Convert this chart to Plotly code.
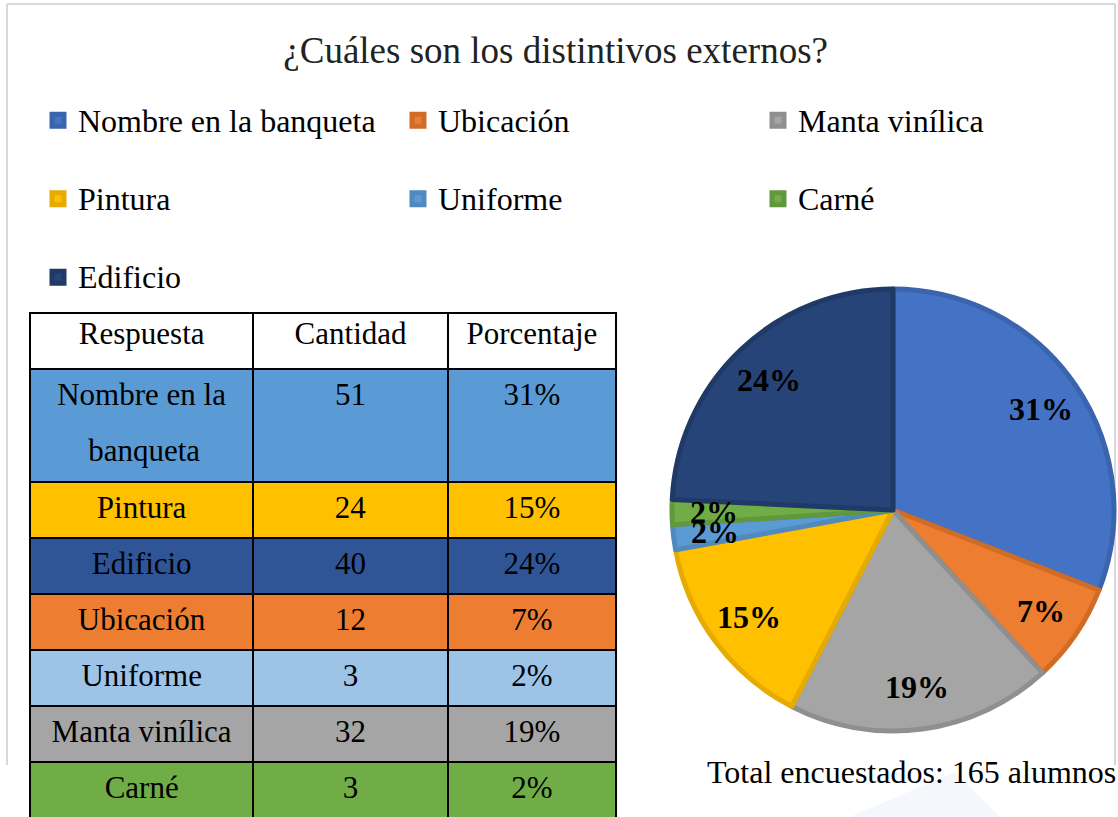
import math
import plotly.graph_objects as go

# ---- data ----
categories = ["Nombre en la banqueta", "Ubicación", "Manta vinílica", "Pintura",
              "Uniforme", "Carné", "Edificio"]
counts = [51, 12, 32, 24, 3, 3, 40]
slice_colors = ["#4472C4", "#ED7D31", "#A5A5A5", "#FFC000", "#5B9BD5", "#70AD47", "#264478"]
slice_edge = ["#3B64AE", "#D16C27", "#8F8F8F", "#E5AB00", "#4F89BD", "#62983D", "#1F3A66"]

table_resp = ["Nombre en la<br>banqueta", "Pintura", "Edificio", "Ubicación",
              "Uniforme", "Manta vinílica", "Carné"]
table_cant = ["51", "24", "40", "12", "3", "32", "3"]
table_pct = ["31%", "15%", "24%", "7%", "2%", "19%", "2%"]
table_colors = ["#5B9BD5", "#FFC000", "#2F5597", "#ED7D31", "#9DC3E6", "#A5A5A5", "#70AD47"]
table_header = ["Respuesta", "Cantidad", "Porcentaje"]

title_text = "¿Cuáles son los distintivos externos?"
total_text = "Total encuestados: 165 alumnos"

W, H = 1118, 817
SERIF = "Liberation Serif, Times New Roman, serif"
TFS = 31          # visible table font size
TALL = 43         # nominal font size giving a 56 px line step
LFS = 32          # visible legend font size

# pie geometry (pixels)
CX, CY, R = 893, 510, 221

fig = go.Figure()

legend_labels = ["<span style='font-size:%dpx'>%s</span><br> " % (LFS, c) for c in categories]

fig.add_trace(go.Pie(
    labels=legend_labels,
    values=counts,
    sort=False,
    direction="clockwise",
    rotation=0,
    marker=dict(colors=slice_colors, line=dict(color=slice_edge, width=5)),
    textinfo="none",
    domain=dict(x=[(CX - R) / W, (CX + R) / W], y=[1 - (CY + R) / H, 1 - (CY - R) / H]),
    hovertemplate="%{customdata}: %{value} (%{percent})<extra></extra>",
    customdata=categories,
    showlegend=True,
))

# percentage labels placed along each slice's mid angle (derived from counts)
total = sum(counts)
cum = 0
for v in counts:
    mid = (cum + v / 2) / total * 2 * math.pi
    cum += v
    rr = 0.81 * R
    px = CX + rr * math.sin(mid)
    py = CY - rr * math.cos(mid)
    fig.add_annotation(
        text="<b>%d%%</b>" % round(100 * v / total),
        xref="paper", yref="paper", x=px / W, y=1 - py / H,
        xanchor="center", yanchor="middle", showarrow=False,
        font=dict(family=SERIF, size=32, color="black"),
    )

SPAN = "<span style='font-size:%dpx;baseline-shift:6px'>%s</span>"


def sized(text):
    lines = text.split("<br>")
    out = []
    for i, ln in enumerate(lines):
        pad = "&nbsp;" * 4 if i > 0 else ""
        seg = SPAN % (TFS, pad + ln)
        if i > 0:
            seg += "<span style='font-size:%dpx'>&nbsp;</span>" % TFS
        out.append(seg)
    s = "<br>".join(out)
    if len(lines) == 1:
        s += "<br>"   # keeps the table from word-wrapping the markup
    return s


fig.add_trace(go.Table(
    domain=dict(x=[30 / W, 616 / W], y=[0, 1 - 313 / H]),
    columnwidth=[223, 194, 168],
    header=dict(
        values=table_header,
        fill_color="white",
        line=dict(color="black", width=2),
        font=dict(family=SERIF, size=TFS, color="black"),
        align="center",
        height=56,
    ),
    cells=dict(
        values=[[sized(t) for t in table_resp],
                [sized(t) for t in table_cant],
                [sized(t) for t in table_pct]],
        fill_color=[table_colors, table_colors, table_colors],
        line=dict(color="black", width=2),
        font=dict(family=SERIF, size=TALL, color="black"),
        align="center",
        height=56,
    ),
))

# chart frame (top, left, right)
frame = dict(type="line", xref="paper", yref="paper", line=dict(color="#D9D9D9", width=2), layer="below")
fig.add_shape(x0=7 / W, x1=1115 / W, y0=1 - 4 / H, y1=1 - 4 / H, **frame)
fig.add_shape(x0=7 / W, x1=7 / W, y0=1 - 4 / H, y1=1 - 765 / H, **frame)
fig.add_shape(x0=1115 / W, x1=1115 / W, y0=1 - 4 / H, y1=1 - 765 / H, **frame)
# faint watermark
fig.add_shape(type="path", xref="paper", yref="paper", layer="below",
              path="M %f %f L %f %f L %f %f Z" % (850 / W, 0, 955 / W, 1 - 772 / H, 1000 / W, 0),
              fillcolor="#F4F7FC", line=dict(width=0))

fig.add_annotation(
    text=total_text, xref="paper", yref="paper",
    x=911 / W, y=1 - 772 / H, xanchor="center", yanchor="middle",
    showarrow=False, font=dict(family=SERIF, size=32, color="black"),
)

fig.update_layout(
    width=W, height=H,
    margin=dict(l=0, r=0, t=0, b=0),
    paper_bgcolor="white",
    plot_bgcolor="white",
    title=dict(text=title_text, x=0.497, xanchor="center", y=1 - 50 / H, yanchor="middle",
               font=dict(family=SERIF, size=37, color="#222222")),
    legend=dict(
        orientation="h",
        x=60 / W, xanchor="left",
        y=1 - 95 / H, yanchor="top",
        entrywidth=315, entrywidthmode="pixels",
        font=dict(family=SERIF, size=29, color="black"),
        traceorder="normal",
        valign="top",
        bgcolor="rgba(0,0,0,0)",
    ),
)

fig.write_html("out.html", config={"displayModeBar": False},
               post_script="document.body.style.margin='0px';")
